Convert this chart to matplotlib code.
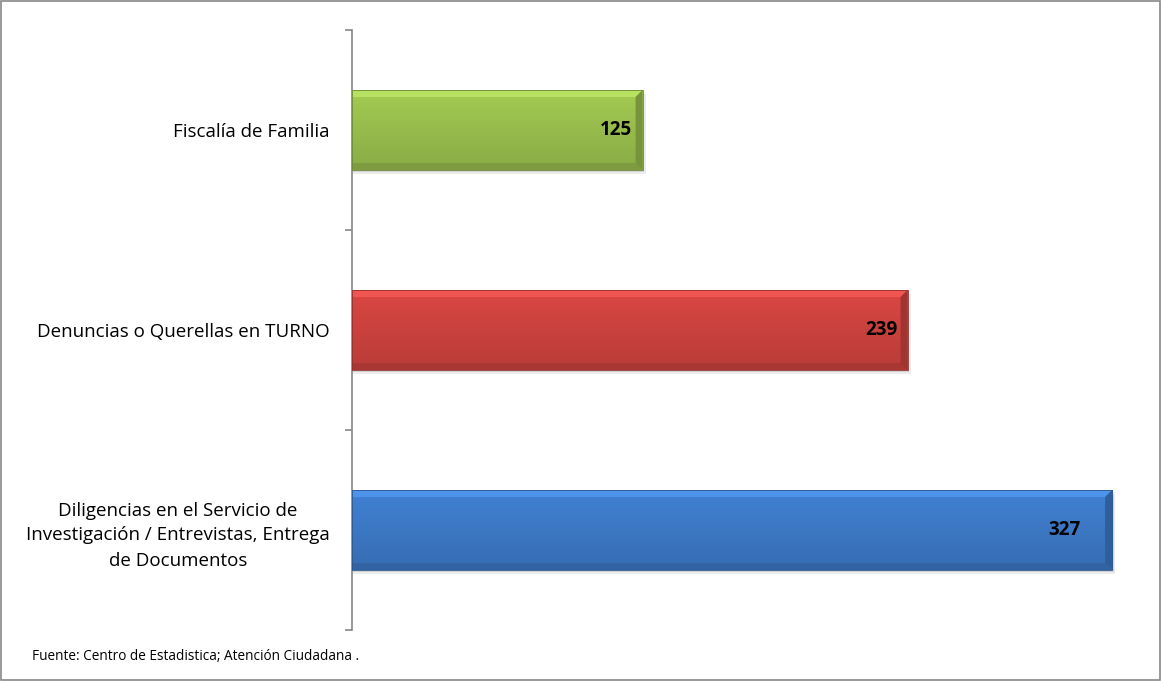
import numpy as np
import matplotlib
matplotlib.use("Agg")
import matplotlib.pyplot as plt
from matplotlib.patches import Polygon, Rectangle
import matplotlib.colors as mcolors

# datos
categorias = ["Diligencias en el Servicio de\nInvestigación / Entrevistas, Entrega\nde Documentos",
              "Denuncias o Querellas en TURNO",
              "Fiscalía de Familia"]
valores = [327, 239, 125]
colores = ["#3E7CCB", "#D24440", "#9DC34F"]
fuente = "Fuente: Centro de Estadistica; Atención Ciudadana ."

plt.rcParams['font.family'] = ['Open Sans', 'DejaVu Sans']

fig = plt.figure(figsize=(11.61, 6.81), dpi=100)
ax = fig.add_axes([352/1161, 1-630/681, (1140-352)/1161, 600/681])

xmax = 339
ymin, ymax = -0.5, 2.5
alto = 0.4
y = np.arange(len(valores))

bars = ax.barh(y, valores, height=alto, color=colores, edgecolor="none", zorder=3)

# efecto 3D: sombra, degradado y biselado
bx = 3.0   # bisel en unidades x
by = 0.035  # bisel en unidades y
for b, c in zip(bars, colores):
    x0, y0 = b.get_x(), b.get_y()
    w, h = b.get_width(), b.get_height()
    rgb = np.array(mcolors.to_rgb(c))
    # sombra
    ax.add_patch(Rectangle((x0, y0 - 0.022), w + 1.3, h, color="black", alpha=0.08, zorder=2, lw=0))
    ax.add_patch(Rectangle((x0, y0 - 0.011), w + 0.7, h, color="black", alpha=0.10, zorder=2, lw=0))
    # degradado vertical
    n = 64
    t = np.linspace(0, 1, n)[:, None]
    top = np.clip(rgb * 1.04, 0, 1)
    bot = rgb * 0.88
    grad = (bot[None, :] * (1 - t) + top[None, :] * t)[:, None, :]
    grad = grad[::-1]
    im = ax.imshow(grad, extent=[x0, x0 + w, y0, y0 + h], aspect="auto",
                   origin="upper", zorder=3.5, interpolation="bilinear")
    im.set_clip_path(b)
    # biseles
    light = np.clip(rgb * 1.1 + 0.04, 0, 1)
    dark = rgb * 0.8
    darker = rgb * 0.76
    ax.add_patch(Polygon([(x0, y0 + h), (x0 + w, y0 + h), (x0 + w - bx, y0 + h - by), (x0, y0 + h - by)],
                         closed=True, color=light, lw=0, zorder=4))
    ax.add_patch(Polygon([(x0, y0), (x0 + w, y0), (x0 + w - bx, y0 + by), (x0, y0 + by)],
                         closed=True, color=dark, lw=0, zorder=4))
    ax.add_patch(Polygon([(x0 + w, y0), (x0 + w, y0 + h), (x0 + w - bx, y0 + h - by), (x0 + w - bx, y0 + by)],
                         closed=True, color=darker, lw=0, zorder=4))
    ax.add_patch(Rectangle((x0, y0), w, h, fill=False, ec=rgb * 0.7, lw=0.6, zorder=4.5))

# etiquetas de valores
desplaz = [-32, -10, -10]
for b, v, d in zip(bars, valores, desplaz):
    ax.annotate(str(v), xy=(b.get_width(), b.get_y() + b.get_height() / 2),
                xytext=(d, 0), textcoords="offset pixels", ha="right", va="center",
                fontsize=13.5, fontweight="bold", color="black", zorder=6)

ax.set_xlim(0, xmax)
ax.set_ylim(ymin, ymax)

for s in ["top", "right", "bottom"]:
    ax.spines[s].set_visible(False)
ax.spines["left"].set_color("#888888")
ax.spines["left"].set_linewidth(1.2)
ax.set_xticks([])

ax.set_yticks(np.arange(ymin, ymax + 0.01, 1.0))
ax.set_yticklabels([])
ax.tick_params(axis="y", which="major", length=5, color="#888888", width=1.2, direction="out")
ax.set_yticks(y, minor=True)
ax.set_yticklabels(categorias, minor=True, fontsize=13.5, multialignment="center", linespacing=1.5)
ax.tick_params(axis="y", which="minor", length=0, pad=16)

fig.text(32/1161, 1-656/681, fuente, fontsize=9.8, va="center", ha="left")

fig.add_artist(Rectangle((0.0005, 0.0008), 0.9985, 0.998, transform=fig.transFigure,
                         fill=False, ec="#888888", lw=1.2))

fig.savefig("out.png", dpi=100)
